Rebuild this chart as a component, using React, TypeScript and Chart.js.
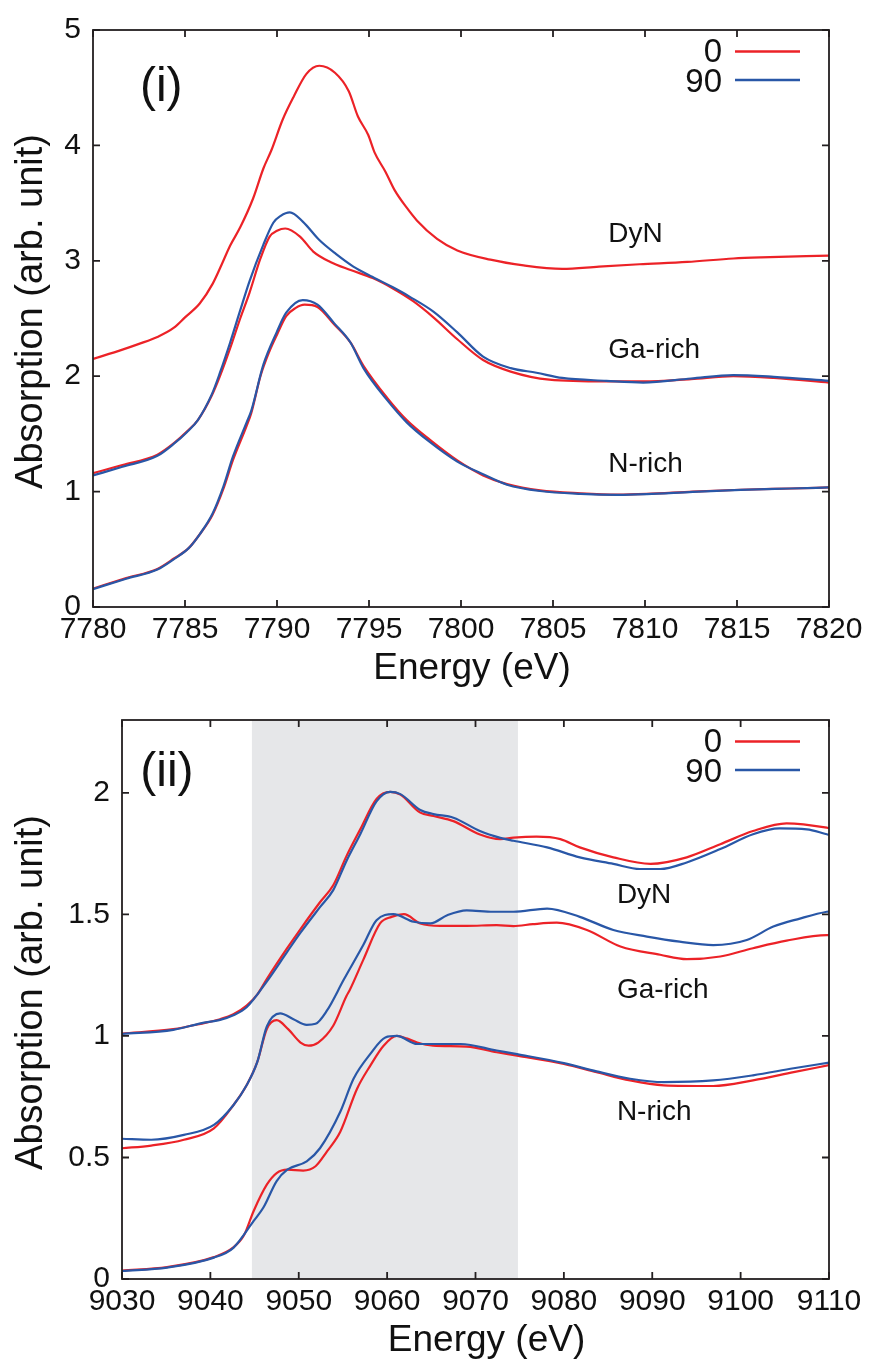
import React, { useEffect, useRef } from "react";
import { Chart, registerables } from "chart.js";

Chart.register(...registerables);

type P = [number, number];

// ---------- Panel (i) ----------
const xTicks1 = [7780, 7785, 7790, 7795, 7800, 7805, 7810, 7815, 7820];
const yTicks1 = [0, 1, 2, 3, 4, 5];

const dyn0_i: P[] = [
  [7780, 2.15], [7781.6, 2.23], [7782.5, 2.28], [7783.5, 2.34], [7784.4, 2.42], [7785.0, 2.51],
  [7785.8, 2.63], [7786.5, 2.8], [7787.0, 2.97], [7787.45, 3.13], [7788.0, 3.29], [7788.7, 3.54],
  [7789.26, 3.8], [7789.7, 3.96], [7790.3, 4.22], [7790.9, 4.42], [7791.6, 4.62], [7792.3, 4.69],
  [7793.15, 4.63], [7793.9, 4.47], [7794.4, 4.25], [7794.96, 4.09], [7795.3, 3.94], [7795.9, 3.77],
  [7796.4, 3.61], [7797.05, 3.46], [7797.6, 3.35], [7798.7, 3.19], [7799.8, 3.09], [7801.6, 3.01],
  [7803.4, 2.96], [7805.5, 2.93], [7807.5, 2.95], [7809.7, 2.97], [7812.3, 2.99], [7814.8, 3.02],
  [7816.3, 3.03], [7820, 3.045],
];

const gar0_i: P[] = [
  [7780, 1.16], [7781.6, 1.23], [7783.5, 1.32], [7784.4, 1.42], [7785.1, 1.52], [7785.7, 1.62],
  [7786.45, 1.83], [7786.9, 2.0], [7787.45, 2.24], [7788.0, 2.5], [7788.5, 2.72], [7789.1, 3.02],
  [7789.6, 3.21], [7790.0, 3.26], [7790.45, 3.28], [7791.25, 3.21], [7791.97, 3.08], [7792.9, 2.99],
  [7794.0, 2.92], [7795.2, 2.85], [7796.3, 2.76], [7797.4, 2.65], [7798.5, 2.51], [7799.8, 2.32],
  [7801.2, 2.14], [7802.7, 2.04], [7804.8, 1.97], [7807.9, 1.955], [7809.9, 1.955], [7812.5, 1.975],
  [7814.8, 2.0], [7817, 1.985], [7820, 1.945],
];

const gar90_i: P[] = [
  [7780, 1.14], [7781.6, 1.215], [7783.5, 1.31], [7784.4, 1.415], [7785.1, 1.515], [7785.7, 1.62],
  [7786.45, 1.84], [7786.9, 2.03], [7787.45, 2.29], [7788.0, 2.57], [7788.5, 2.82], [7789.26, 3.14],
  [7789.8, 3.33], [7790.2, 3.39], [7790.7, 3.42], [7791.4, 3.34], [7792.3, 3.18], [7793.2, 3.06],
  [7794.15, 2.95], [7795.2, 2.86], [7796.3, 2.77], [7797.2, 2.69], [7798.5, 2.56], [7799.8, 2.38],
  [7801.2, 2.17], [7802.7, 2.07], [7804.1, 2.03], [7805.5, 1.985], [7807.9, 1.96], [7809.9, 1.945],
  [7812.5, 1.98], [7814.8, 2.01], [7817, 1.995], [7820, 1.96],
];

const nri0_i: P[] = [
  [7780, 0.16], [7781.8, 0.25], [7783.5, 0.33], [7784.4, 0.42], [7785.2, 0.51], [7785.8, 0.63],
  [7786.5, 0.8], [7787.1, 1.03], [7787.6, 1.27], [7788.35, 1.57], [7788.6, 1.68], [7789.1, 2.0],
  [7789.6, 2.22], [7790.0, 2.36], [7790.5, 2.52], [7791.0, 2.59], [7791.5, 2.62], [7792.2, 2.6],
  [7793.1, 2.45], [7794.0, 2.29], [7794.7, 2.09], [7796.0, 1.81], [7797.05, 1.62], [7798.3, 1.45],
  [7799.8, 1.27], [7801.2, 1.14], [7802.5, 1.065], [7804.3, 1.01], [7806.5, 0.985], [7808.5, 0.974],
  [7810.1, 0.98], [7812.6, 1.0], [7815.2, 1.016], [7817.9, 1.027], [7820, 1.036],
];

const nri90_i: P[] = [
  [7780, 0.155], [7781.8, 0.245], [7783.5, 0.325], [7784.4, 0.415], [7785.2, 0.51], [7785.8, 0.63],
  [7786.5, 0.81], [7787.1, 1.05], [7787.6, 1.3], [7788.35, 1.6], [7788.6, 1.7], [7789.26, 2.1],
  [7789.98, 2.38], [7790.5, 2.55], [7791.4, 2.66], [7792.2, 2.62], [7793.1, 2.46], [7794.0, 2.29],
  [7794.7, 2.07], [7796.0, 1.79], [7797.05, 1.6], [7798.3, 1.43], [7799.8, 1.26], [7801.2, 1.15],
  [7802.5, 1.06], [7804.3, 1.005], [7806.5, 0.98], [7808.5, 0.972], [7810.1, 0.978], [7812.6, 0.998],
  [7815.2, 1.015], [7817.9, 1.027], [7820, 1.036],
];

// ---------- Panel (ii) ----------
const xTicks2 = [9030, 9040, 9050, 9060, 9070, 9080, 9090, 9100, 9110];
const yTicks2 = [0, 0.5, 1, 1.5, 2];
const shade2: P = [9044.7, 9074.8];

const dyn0_ii: P[] = [
  [9030, 1.01], [9035.8, 1.028], [9038.9, 1.05], [9041.1, 1.069], [9042.6, 1.089], [9044.1, 1.125],
  [9045.3, 1.17], [9046.4, 1.235], [9048.67, 1.36], [9050.2, 1.44], [9052.4, 1.55], [9053.9, 1.62],
  [9055.4, 1.74], [9056.96, 1.85], [9058.8, 1.975], [9060.35, 2.004], [9061.5, 1.993], [9063.7, 1.92],
  [9065.25, 1.905], [9067.5, 1.884], [9070.5, 1.829], [9072.8, 1.81], [9074.3, 1.816], [9076.9, 1.82],
  [9079.6, 1.81], [9081.8, 1.776], [9085.6, 1.735], [9089.8, 1.708], [9093.9, 1.735], [9097.7, 1.789],
  [9101.4, 1.843], [9105.2, 1.875], [9109.75, 1.857], [9110, 1.855],
];

const dyn90_ii: P[] = [
  [9030, 1.008], [9035.8, 1.025], [9038.9, 1.052], [9041.1, 1.066], [9042.6, 1.085], [9044.1, 1.118],
  [9046.4, 1.225], [9048.67, 1.345], [9050.2, 1.425], [9052.4, 1.53], [9053.9, 1.6], [9055.4, 1.72],
  [9056.96, 1.83], [9058.8, 1.965], [9060.35, 2.004], [9061.5, 1.995], [9063.75, 1.93], [9065.25, 1.913],
  [9067.5, 1.898], [9070.5, 1.843], [9072.8, 1.815], [9074.3, 1.803], [9078.1, 1.776], [9081.8, 1.735],
  [9085.6, 1.708], [9088.6, 1.687], [9090.9, 1.687], [9093.9, 1.714], [9097.7, 1.769], [9101.4, 1.83],
  [9104.4, 1.854], [9107.5, 1.85], [9109.75, 1.83], [9110, 1.828],
];

const gar0_ii: P[] = [
  [9030, 0.538], [9033.3, 0.549], [9037, 0.573], [9040.4, 0.62], [9042.6, 0.715], [9044.1, 0.797],
  [9045.3, 0.892], [9046.4, 1.03], [9047.5, 1.065], [9048.8, 1.028], [9050.2, 0.973], [9051.1, 0.96],
  [9052.2, 0.973], [9053.9, 1.042], [9055.4, 1.164], [9055.8, 1.191], [9057.3, 1.313], [9059.2, 1.463],
  [9060.5, 1.49], [9061.9, 1.501], [9063.75, 1.463], [9066, 1.453], [9069, 1.453], [9072.4, 1.456],
  [9074.3, 1.452], [9076.5, 1.46], [9079.2, 1.466], [9082.6, 1.436], [9086.4, 1.368], [9090.9, 1.334],
  [9093.9, 1.316], [9097.7, 1.327], [9101.4, 1.361], [9105.2, 1.392], [9109.75, 1.415], [9110, 1.415],
];

const gar90_ii: P[] = [
  [9030, 0.577], [9033.3, 0.573], [9037, 0.593], [9040.4, 0.634], [9042.6, 0.715], [9044.1, 0.797],
  [9045.3, 0.892], [9046.4, 1.04], [9047.9, 1.093], [9049.4, 1.069], [9050.9, 1.046], [9051.9, 1.05],
  [9053.2, 1.105], [9055.1, 1.232], [9057.3, 1.374], [9058.8, 1.476], [9060.7, 1.501], [9063, 1.47],
  [9064.9, 1.463], [9066.8, 1.497], [9069, 1.517], [9072, 1.511], [9074.3, 1.511], [9078.1, 1.524],
  [9081.8, 1.49], [9085.6, 1.436], [9089.4, 1.409], [9093.1, 1.388], [9096.9, 1.374], [9100.7, 1.395],
  [9103.7, 1.45], [9106.7, 1.483], [9109.75, 1.511], [9110, 1.512],
];

const nri0_ii: P[] = [
  [9030, 0.035], [9035.1, 0.049], [9040.4, 0.09], [9042.6, 0.13], [9043.8, 0.18], [9044.9, 0.28],
  [9046.4, 0.389], [9047.5, 0.436], [9048.7, 0.45], [9050.5, 0.446], [9051.9, 0.464], [9053.2, 0.525],
  [9054.7, 0.606], [9056.6, 0.783], [9058.1, 0.878], [9059.6, 0.96], [9061.1, 1.0], [9062.2, 0.99],
  [9063.4, 0.973], [9065.2, 0.96], [9069, 0.956], [9072.4, 0.933], [9074.7, 0.919], [9080, 0.885],
  [9083.7, 0.851], [9087.5, 0.817], [9091.3, 0.797], [9096.9, 0.794], [9101.4, 0.817], [9106, 0.851],
  [9110, 0.88],
];

const nri90_ii: P[] = [
  [9030, 0.033], [9035.1, 0.047], [9040.4, 0.088], [9042.6, 0.128], [9044.9, 0.239], [9046, 0.294],
  [9047.5, 0.403], [9048.7, 0.45], [9050.9, 0.484], [9052.4, 0.538], [9054.7, 0.688], [9056.2, 0.824],
  [9058.1, 0.926], [9059.8, 0.994], [9061.1, 1.0], [9063.4, 0.967], [9065.2, 0.967], [9068.3, 0.967],
  [9072.4, 0.94], [9074.7, 0.925], [9080, 0.888], [9083.7, 0.854], [9087.5, 0.824], [9091.3, 0.81],
  [9096.9, 0.817], [9101.4, 0.838], [9106, 0.867], [9110, 0.89],
];

const legendLabels = ["0", "90"];
const sampleNames = ["DyN", "Ga-rich", "N-rich"];

const RED = "#ec2227";
const BLUE = "#2957a7";
const INK = "#231f20";
const FONT = '"Liberation Sans", Arial, Helvetica, sans-serif';

type Spec = {
  xMin: number; xMax: number; xTicks: number[];
  yMin: number; yMax: number; yTicks: number[];
  red: P[][]; blue: P[][];
  padTop: number; yWidth: number; xHeight: number;
  shade?: P;
  panel: { text: string; x: number; y: number };
  labels: { text: string; x: number; y: number }[];
};

const spec1: Spec = {
  xMin: 7780, xMax: 7820, xTicks: xTicks1,
  yMin: 0, yMax: 5, yTicks: yTicks1,
  red: [dyn0_i, gar0_i, nri0_i],
  blue: [gar90_i, nri90_i],
  padTop: 18, yWidth: 93, xHeight: 83,
  panel: { text: "(i)", x: 7782.55, y: 4.389 },
  labels: [
    { text: sampleNames[0], x: 7808, y: 3.164 },
    { text: sampleNames[1], x: 7808, y: 2.16 },
    { text: sampleNames[2], x: 7808, y: 1.169 },
  ],
};

const spec2: Spec = {
  xMin: 9030, xMax: 9110, xTicks: xTicks2,
  yMin: 0, yMax: 2.3, yTicks: yTicks2,
  red: [dyn0_ii, gar0_ii, nri0_ii],
  blue: [dyn90_ii, gar90_ii, nri90_ii],
  padTop: 24, yWidth: 122, xHeight: 85,
  shade: shade2,
  panel: { text: "(ii)", x: 9032.07, y: 2.027 },
  labels: [
    { text: sampleNames[0], x: 9086, y: 1.547 },
    { text: sampleNames[1], x: 9086, y: 1.157 },
    { text: sampleNames[2], x: 9086, y: 0.654 },
  ],
};

function decor(p: Spec) {
  return {
    id: "decor",
    beforeDatasetsDraw(chart: any) {
      if (!p.shade) return;
      const { ctx, chartArea: a, scales } = chart;
      const x0 = scales.x.getPixelForValue(p.shade[0]);
      const x1 = scales.x.getPixelForValue(p.shade[1]);
      ctx.save();
      ctx.fillStyle = "#e6e7e9";
      ctx.fillRect(x0, a.top, x1 - x0, a.bottom - a.top);
      ctx.restore();
    },
    afterDatasetsDraw(chart: any) {
      const { ctx, chartArea: a, scales } = chart;
      const xs = scales.x, ys = scales.y;
      ctx.save();
      ctx.strokeStyle = INK;
      ctx.lineWidth = 1.8;
      // inward tick marks on all four sides
      const tl = 7;
      ctx.beginPath();
      for (const v of p.xTicks) {
        const px = xs.getPixelForValue(v);
        ctx.moveTo(px, a.bottom); ctx.lineTo(px, a.bottom - tl);
        ctx.moveTo(px, a.top); ctx.lineTo(px, a.top + tl);
      }
      for (const v of p.yTicks) {
        const py = ys.getPixelForValue(v);
        ctx.moveTo(a.left, py); ctx.lineTo(a.left + tl, py);
        ctx.moveTo(a.right, py); ctx.lineTo(a.right - tl, py);
      }
      ctx.stroke();
      ctx.strokeRect(a.left, a.top, a.right - a.left, a.bottom - a.top);

      ctx.fillStyle = "#111";
      ctx.textBaseline = "alphabetic";
      // panel label
      ctx.font = `48px ${FONT}`;
      ctx.textAlign = "left";
      ctx.fillText(p.panel.text, xs.getPixelForValue(p.panel.x), ys.getPixelForValue(p.panel.y));
      // sample labels
      ctx.font = `28px ${FONT}`;
      for (const l of p.labels) {
        ctx.fillText(l.text, xs.getPixelForValue(l.x), ys.getPixelForValue(l.y));
      }
      // legend
      ctx.font = `33px ${FONT}`;
      ctx.textAlign = "right";
      const cols = [RED, BLUE];
      const textY = [32, 62];
      const lineY = [21.5, 50];
      for (let i = 0; i < 2; i++) {
        ctx.fillText(legendLabels[i], a.right - 107, a.top + textY[i]);
        ctx.beginPath();
        ctx.strokeStyle = cols[i];
        ctx.lineWidth = 2.4;
        ctx.moveTo(a.right - 94, a.top + lineY[i]);
        ctx.lineTo(a.right - 29, a.top + lineY[i]);
        ctx.stroke();
      }
      // axis titles
      ctx.font = `37px ${FONT}`;
      ctx.textAlign = "center";
      ctx.fillText("Energy (eV)", (a.left + a.right) / 2 + 11, a.bottom + 72);
      ctx.save();
      ctx.font = `38px ${FONT}`;
      ctx.translate(42, (a.top + a.bottom) / 2 - 7);
      ctx.rotate(-Math.PI / 2);
      ctx.fillText("Absorption (arb. unit)", 0, 0);
      ctx.restore();
      ctx.restore();
    },
  };
}

function build(canvas: HTMLCanvasElement, p: Spec) {
  const mk = (d: P[], color: string) => ({
    data: d.map(([x, y]) => ({ x, y })),
    borderColor: color,
    backgroundColor: color,
    borderWidth: 2.2,
    pointRadius: 0,
    fill: false,
    cubicInterpolationMode: "monotone" as const,
  });
  // earlier datasets are drawn on top: blue (90) over red (0)
  const datasets = [...p.blue.map((d) => mk(d, BLUE)), ...p.red.map((d) => mk(d, RED))];
  const tickFont = { family: FONT, size: 30 };
  return new Chart(canvas, {
    type: "line",
    data: { datasets },
    options: {
      responsive: false,
      animation: false,
      devicePixelRatio: 1,
      events: [],
      layout: { padding: { top: p.padTop, right: 48, bottom: 0, left: 0 } },
      plugins: { legend: { display: false }, tooltip: { enabled: false } },
      scales: {
        x: {
          type: "linear",
          min: p.xMin,
          max: p.xMax,
          grid: { display: false, drawTicks: false },
          border: { display: false },
          afterBuildTicks: (s: any) => { s.ticks = p.xTicks.map((v) => ({ value: v })); },
          afterFit: (s: any) => { s.height = p.xHeight; },
          ticks: {
            font: tickFont, color: "#111", padding: 5, maxRotation: 0, minRotation: 0,
            autoSkip: false, callback: (v: any) => String(v),
          },
        },
        y: {
          type: "linear",
          min: p.yMin,
          max: p.yMax,
          grid: { display: false, drawTicks: false },
          border: { display: false },
          afterBuildTicks: (s: any) => { s.ticks = p.yTicks.map((v) => ({ value: v })); },
          afterFit: (s: any) => { s.width = p.yWidth; },
          ticks: {
            font: tickFont, color: "#111", padding: 12,
            autoSkip: false, callback: (v: any) => String(v),
          },
        },
      },
    } as any,
    plugins: [decor(p)],
  });
}

export default function App() {
  const ref1 = useRef<HTMLCanvasElement>(null);
  const ref2 = useRef<HTMLCanvasElement>(null);
  useEffect(() => {
    const c1 = build(ref1.current!, spec1);
    const c2 = build(ref2.current!, spec2);
    return () => {
      c1.destroy();
      c2.destroy();
    };
  }, []);
  return (
    <div style={{ position: "absolute", left: 0, top: 0, width: 877, height: 1364, background: "#fff" }}>
      <canvas ref={ref1} width={877} height={690}
        style={{ position: "absolute", left: 0, top: 0, width: 877, height: 690 }} />
      <canvas ref={ref2} width={877} height={674}
        style={{ position: "absolute", left: 0, top: 690, width: 877, height: 674 }} />
    </div>
  );
}
